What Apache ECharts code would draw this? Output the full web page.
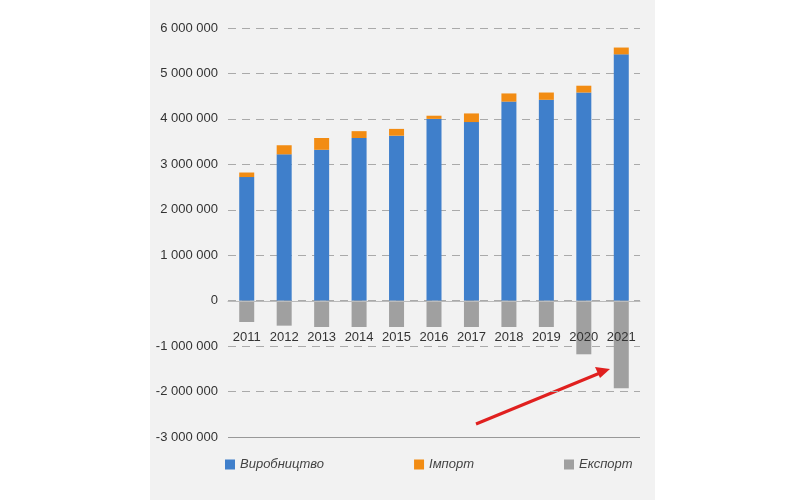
<!DOCTYPE html>
<html>
<head>
<meta charset="utf-8">
<script src="https://cdn.jsdelivr.net/npm/echarts@6/dist/echarts.min.js"></script>
<style>
  html, body { margin: 0; padding: 0; background: #fff; }
  #chart { width: 805px; height: 500px; }
</style>
</head>
<body>
<div id="chart"></div>
<script>
// роки
let years = ['2011', '2012', '2013', '2014', '2015', '2016', '2017', '2018', '2019', '2020', '2021'];
// виробництво
let production = [2720000, 3220000, 3320000, 3580000, 3630000, 4000000, 3930000, 4380000, 4420000, 4580000, 5420000];
// імпорт
let imports = [100000, 200000, 260000, 150000, 150000, 70000, 190000, 180000, 160000, 150000, 150000];
// експорт
let exports = [-470000, -550000, -580000, -580000, -580000, -580000, -580000, -580000, -580000, -1180000, -1930000];

let chart = echarts.init(document.getElementById('chart'));

function fmt(v) {
  let s = Math.abs(v).toString().replace(/\B(?=(\d{3})+(?!\d))/g, ' ');
  return (v < 0 ? '-' : '') + s;
}

let font = 'Liberation Sans';

let option = {
  backgroundColor: '#fff',
  color: ['#3f7fcb', '#f28c13', '#a0a0a0'],
  graphic: [
    { type: 'rect', shape: { x: 150, y: 0, width: 505, height: 500 }, style: { fill: '#f2f2f2' }, z: -10 },
    { type: 'line', shape: { x1: 476, y1: 424, x2: 600, y2: 373 }, style: { stroke: '#e0201f', lineWidth: 3 } },
    { type: 'polygon', shape: { points: [[610, 369], [595, 367], [600, 378]] }, style: { fill: '#e0201f' } }
  ],
  grid: { left: 228, right: 165, top: 28, bottom: 63 },
  legend: {
    bottom: 24,
    left: 220,
    itemWidth: 10,
    itemHeight: 10,
    itemGap: 90,
    icon: 'rect',
    textStyle: { fontFamily: font, fontStyle: 'italic', fontSize: 13, color: '#444' },
    data: ['Виробництво', 'Імпорт', 'Експорт']
  },
  xAxis: {
    type: 'category',
    data: years,
    position: 'bottom',
    offset: -136,
    axisLine: { onZero: false, lineStyle: { color: '#bbb' } },
    axisTick: { show: false },
    axisLabel: { interval: 0, margin: 30, color: '#333', fontFamily: font, fontSize: 13 },
    z: 10
  },
  yAxis: {
    type: 'value',
    min: -3000000,
    max: 6000000,
    interval: 1000000,
    axisLine: { show: false },
    axisTick: { show: false },
    axisLabel: { formatter: fmt, color: '#333', fontFamily: font, fontSize: 13, margin: 10 },
    splitLine: { lineStyle: { color: '#aaa', type: [8, 6] } }
  },
  series: [
    {
      name: 'Виробництво', type: 'bar', stack: 'a', data: production, barWidth: 15,
      markLine: {
        silent: true, symbol: 'none', label: { show: false },
        lineStyle: { color: '#999', type: 'solid', width: 1 },
        data: [{ yAxis: -3000000 }]
      }
    },
    { name: 'Імпорт', type: 'bar', stack: 'a', data: imports, barWidth: 15 },
    { name: 'Експорт', type: 'bar', stack: 'a', data: exports, barWidth: 15 }
  ]
};

chart.setOption(option);
</script>
</body>
</html>
